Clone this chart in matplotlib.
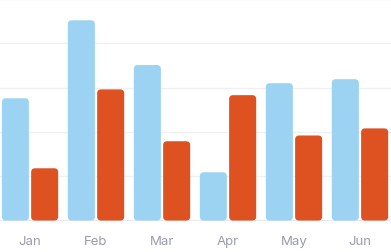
import matplotlib
matplotlib.use("Agg")
import matplotlib.pyplot as plt
from matplotlib.patches import FancyBboxPatch

# data
months = ["Jan", "Feb", "Mar", "Apr", "May", "Jun"]
series_a = [276, 452, 351, 109, 310, 319]
series_b = [118, 296, 179, 283, 192, 208]

blue = "#9dd3f2"
red = "#de5121"

fig = plt.figure(figsize=(3.91, 2.53), dpi=100)
ax = fig.add_axes([0, 31 / 253, 1, 1 - 31 / 253])

ax.set_xlim(-0.455, 5.47)
ax.set_ylim(-1, 500)

# grid
for y in [100, 200, 300, 400, 500]:
    ax.axhline(y, color="#f0f0f4", lw=1, zorder=0)
ax.axhline(-1, color="#e8e8f0", lw=1.5, zorder=0)

w = 0.41
off = 0.222
r = 0.06
aspect = (500 / 221) / (5.925 / 391)

def rbar(x, h, color):
    p = FancyBboxPatch((x - w / 2, 0), w, h,
                       boxstyle="round,pad=0,rounding_size=%f" % r,
                       mutation_aspect=aspect, fc=color, ec="none", zorder=2)
    ax.add_patch(p)

for i in range(len(months)):
    rbar(i - off, series_a[i], blue)
    rbar(i + off, series_b[i], red)

ax.set_xticks(range(len(months)))
ax.set_xticklabels(months, color="#9a9bb0", fontsize=9.5, family=["Inter", "DejaVu Sans"])
ax.tick_params(axis="x", length=0, pad=10)
ax.set_yticks([])
for s in ax.spines.values():
    s.set_visible(False)

fig.savefig("out.png", dpi=100)
